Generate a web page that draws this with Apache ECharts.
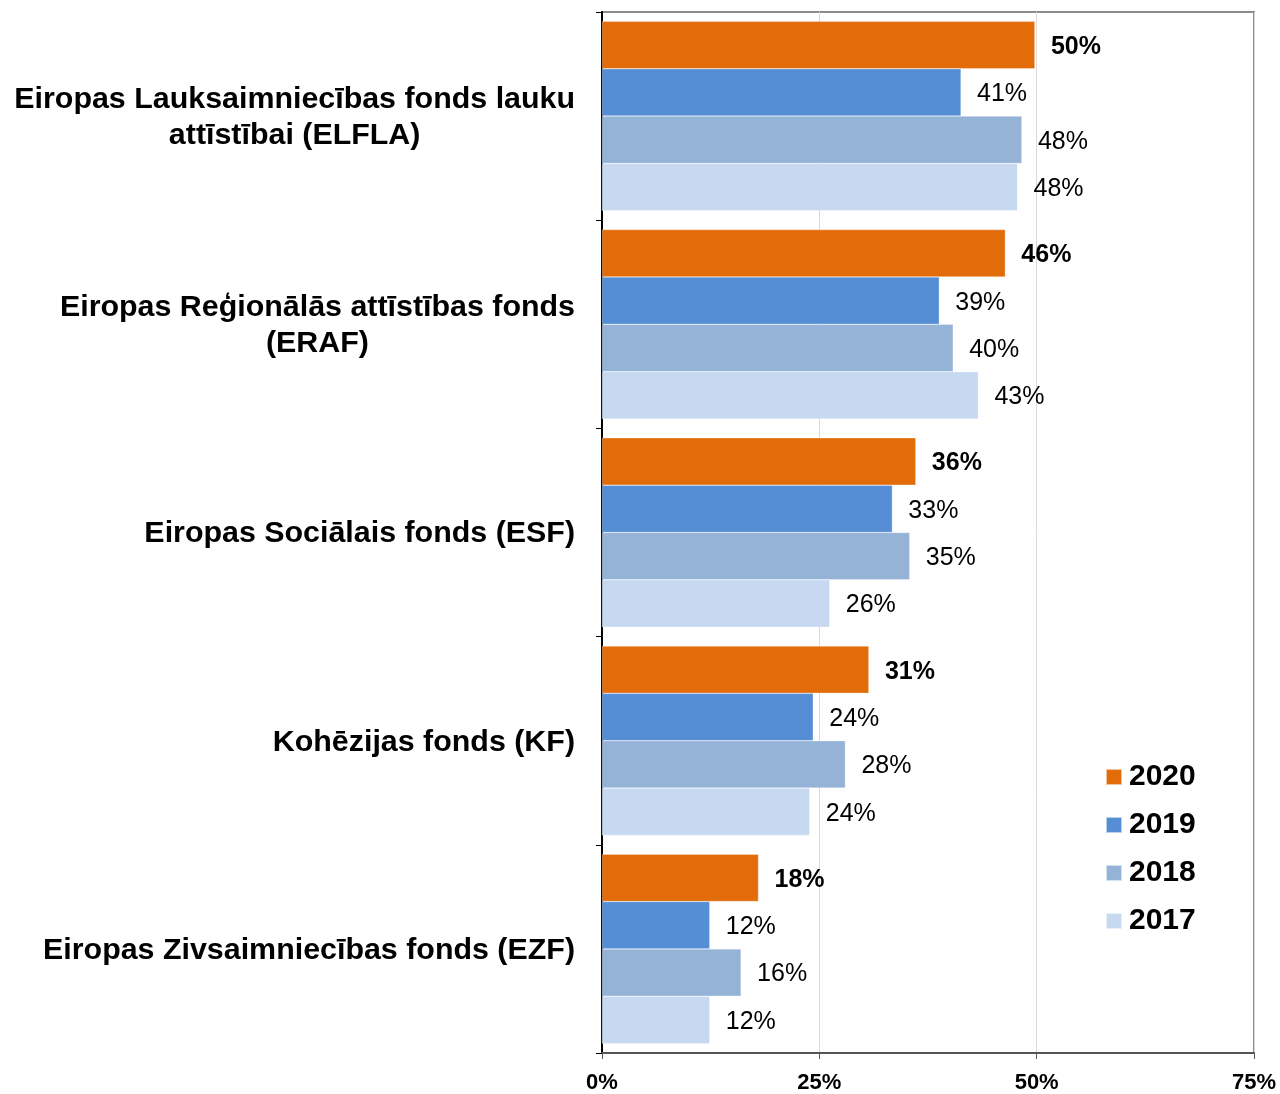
<!DOCTYPE html>
<html>
<head>
<meta charset="utf-8">
<script src="https://cdn.jsdelivr.net/npm/echarts@6/dist/echarts.min.js"></script>
<style>
  html, body { margin: 0; padding: 0; background: #fff; }
  #chart { width: 1280px; height: 1094px; }
</style>
</head>
<body>
<div id="chart"></div>
<script>
// fondi un gadi
var funds = [
    'Eiropas Lauksaimniecības fonds lauku\nattīstībai (ELFLA)',
    'Eiropas Reģionālās attīstības fonds\n(ERAF)',
    'Eiropas Sociālais fonds (ESF)',
    'Kohēzijas fonds (KF)',
    'Eiropas Zivsaimniecības fonds (EZF)'
];
var years = ['2020', '2019', '2018', '2017'];
var colors = ['#E36C0A', '#558ED5', '#95B3D7', '#C6D9F1'];

// vērtības procentos
var v2020 = [49.8, 46.4, 36.1, 30.7, 18.0];
var v2019 = [41.3, 38.8, 33.4, 24.3, 12.4];
var v2018 = [48.3, 40.4, 35.4, 28.0, 16.0];
var v2017 = [47.8, 43.3, 26.2, 23.9, 12.4];
var values = [v2020, v2019, v2018, v2017];

var xTicks = [0, 25, 50, 75];

var chart = echarts.init(document.getElementById('chart'));

var series = [];
for (var i = 0; i < years.length; i++) {
    series.push({
        name: years[i],
        type: 'bar',
        data: values[i],
        barGap: '0%',
        barCategoryGap: '9%',
        itemStyle: {color: colors[i], borderColor: 'rgba(255,255,255,0.6)', borderWidth: 0.5},
        label: {
            show: true,
            position: 'right',
            distance: 16,
            offset: [0, 2],
            color: '#000',
            fontFamily: 'Liberation Sans, Arial',
            fontSize: 25,
            fontWeight: i === 0 ? 'bold' : 'normal',
            formatter: function (p) { return Math.round(p.value) + '%'; }
        }
    });
}

var option = {
    animation: false,
    color: colors,
    grid: {
        left: 602, right: 26, top: 12, bottom: 39,
        show: true, borderColor: '#8c8c8c', borderWidth: 2, backgroundColor: 'transparent'
    },
    legend: {
        orient: 'vertical',
        left: 1105,
        top: 762,
        padding: 0,
        itemWidth: 16,
        itemHeight: 16,
        itemGap: 18,
        icon: 'rect',
        data: years,
        textStyle: {fontFamily: 'Liberation Sans, Arial', fontSize: 30, fontWeight: 'bold', color: '#000', padding: [0, 0, 0, 2]}
    },
    xAxis: {
        type: 'value',
        min: 0, max: 75, interval: 25,
        axisLine: {show: true, lineStyle: {color: '#555', width: 2}},
        axisTick: {show: true, length: 6, lineStyle: {color: '#555', width: 1}},
        splitLine: {show: true, lineStyle: {color: '#d9d9d9', width: 1}},
        axisLabel: {
            margin: 19,
            fontFamily: 'Liberation Sans Narrow, Liberation Sans, Arial',
            fontSize: 22,
            fontWeight: 'bold',
            color: '#000',
            formatter: function (v) { return xTicks.indexOf(v) >= 0 ? v + '%' : ''; }
        }
    },
    yAxis: {
        type: 'category',
        inverse: true,
        data: funds,
        axisLine: {show: true, lineStyle: {color: '#000', width: 2}},
        axisTick: {show: true, length: 6, lineStyle: {color: '#000', width: 1}},
        axisLabel: {
            margin: 27,
            formatter: function (v) {
                return v.split('\n').map(function (s) { return '{c|' + s + '}'; }).join('\n');
            },
            rich: {
                c: {
                    align: 'center',
                    fontFamily: 'Liberation Sans, Arial',
                    fontSize: 30.4,
                    fontWeight: 'bold',
                    color: '#000',
                    lineHeight: 36,
                    padding: [3, 0, 0, 0]
                }
            }
        }
    },
    series: series
};

chart.setOption(option);
</script>
</body>
</html>
